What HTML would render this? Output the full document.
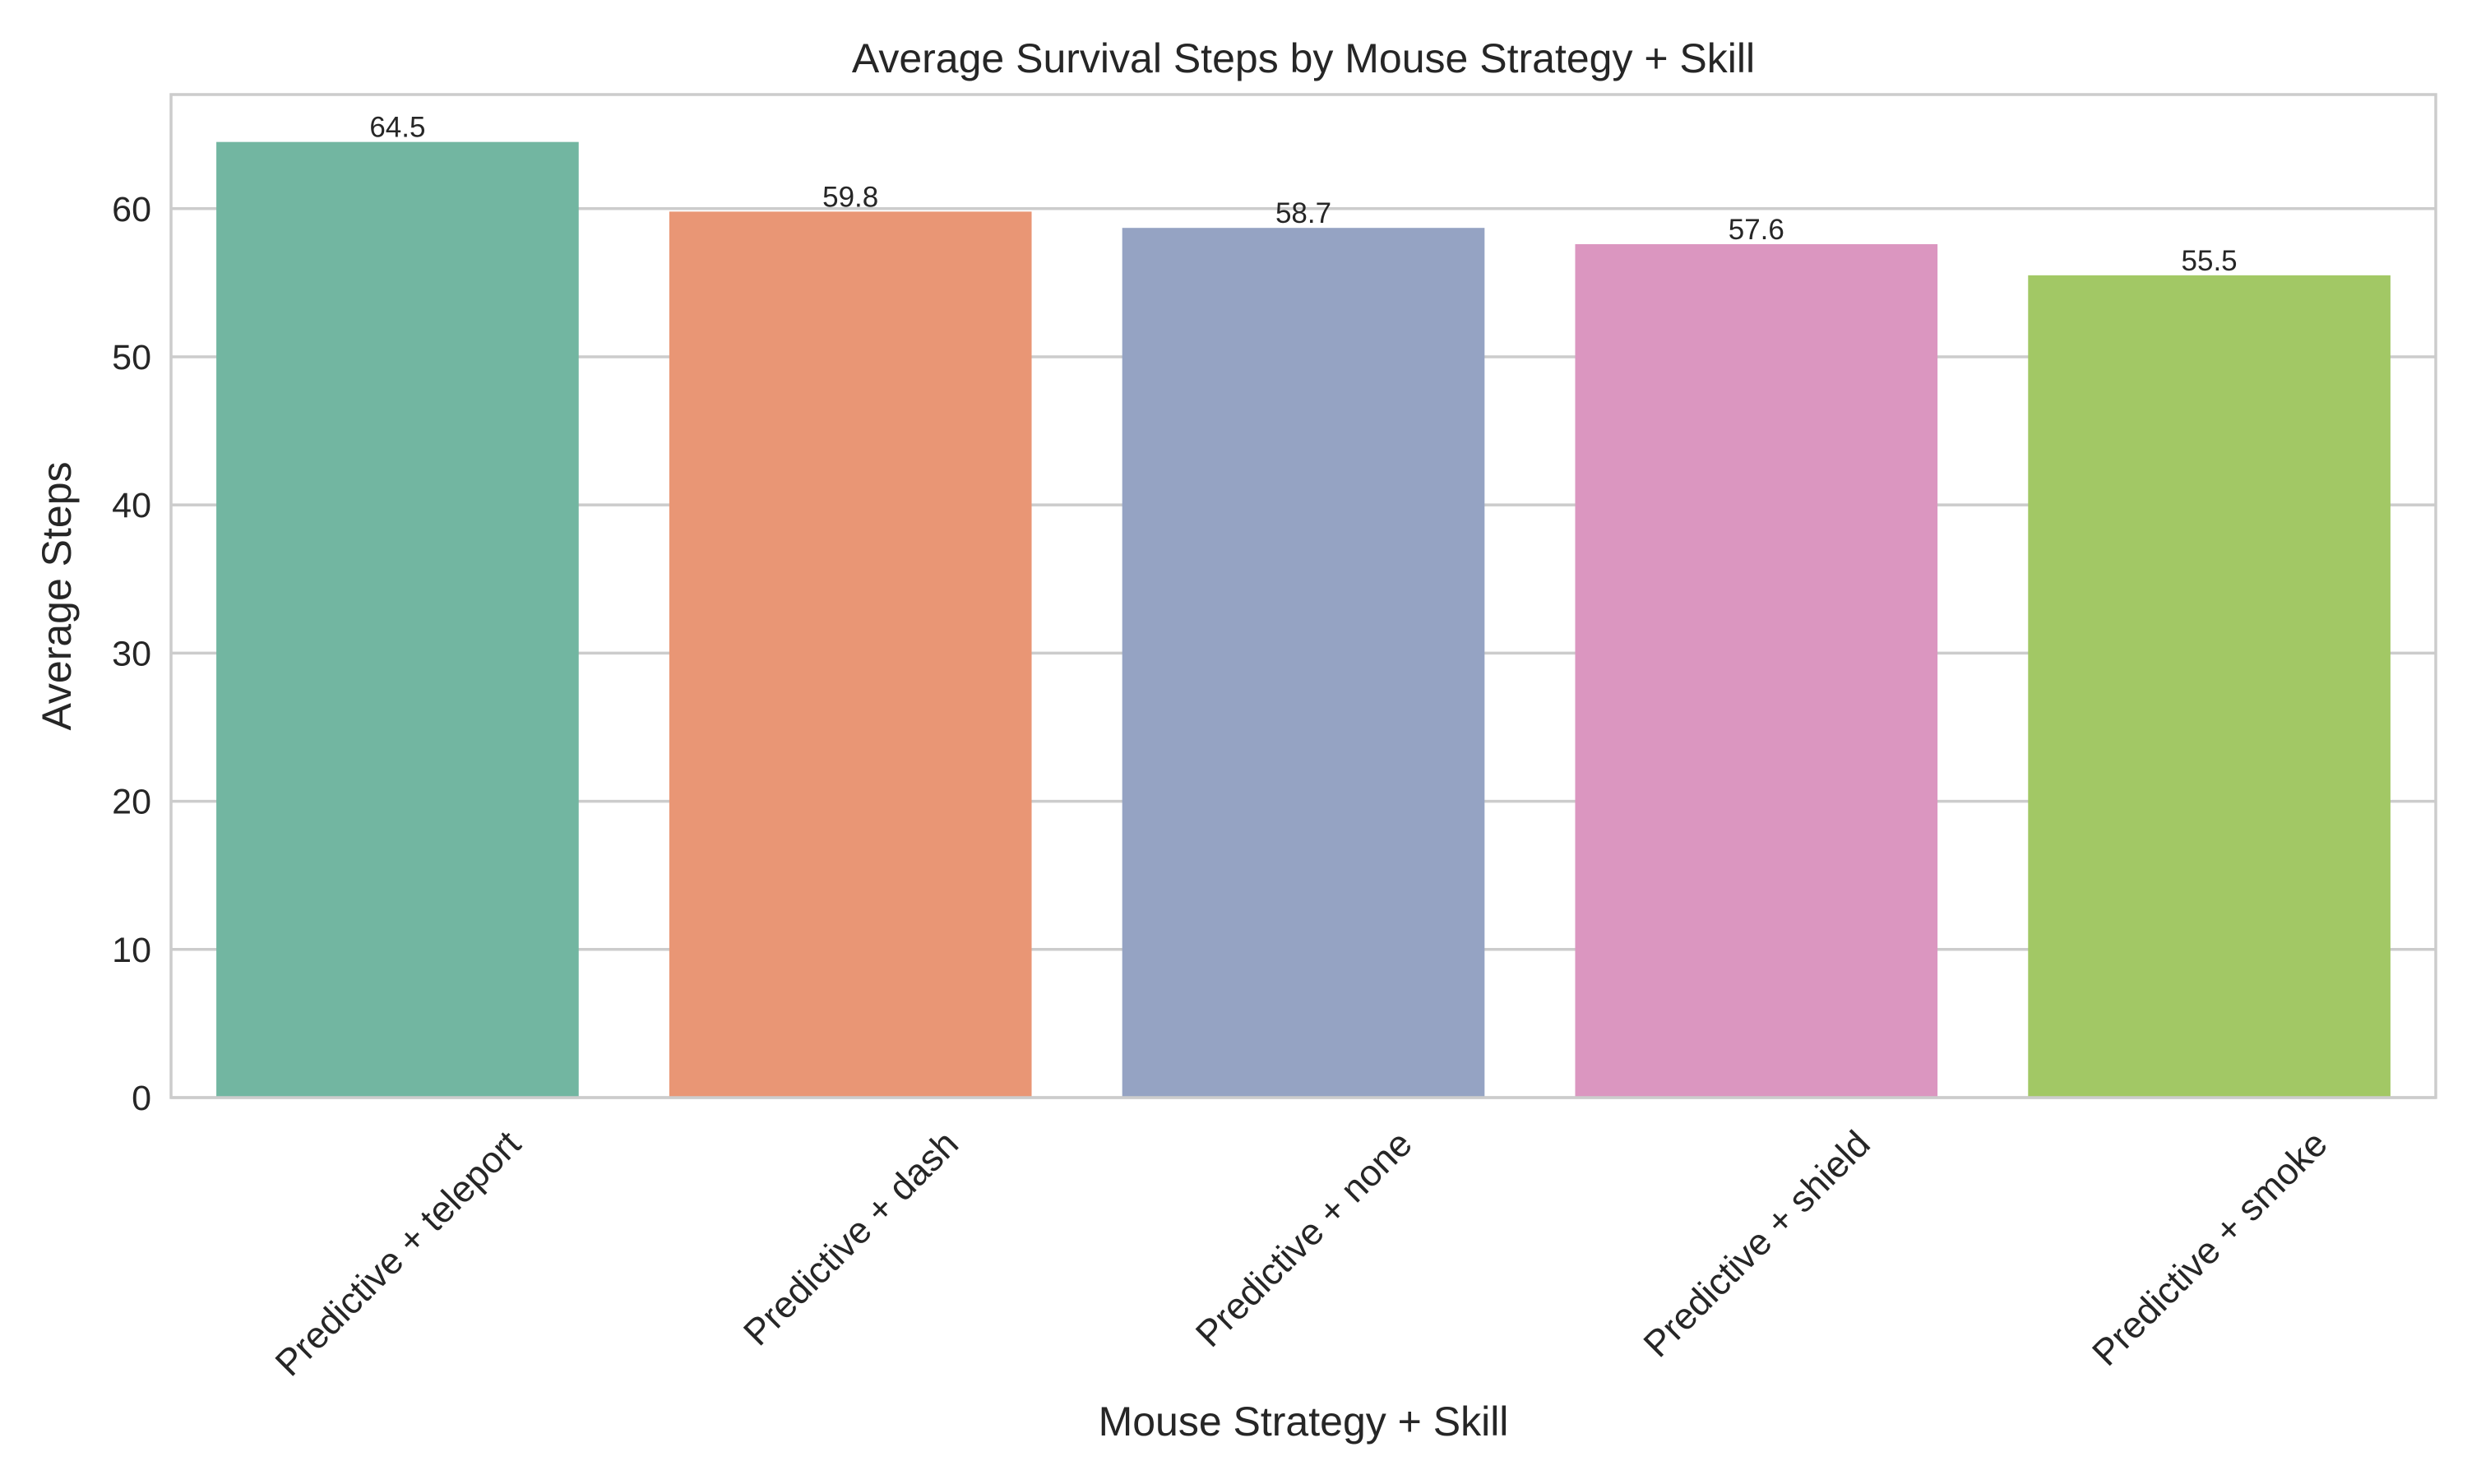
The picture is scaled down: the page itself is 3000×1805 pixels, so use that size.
<!DOCTYPE html>
<html><head><meta charset="utf-8"><style>
html,body{margin:0;padding:0;background:#fff;}
svg text{font-family:"Liberation Sans","DejaVu Sans",sans-serif;fill:#262626;}
</style></head><body>
<svg id="chart" width="3000" height="1800" viewBox="0 0 3000 1800">
<rect x="0" y="0" width="3000" height="1800" fill="#fff"/>
<g id="grid"></g><g id="bars"></g><g id="labels"></g><g id="ticks"></g>
<rect x="208" y="115" width="2754" height="1220" fill="none" stroke="#cccccc" stroke-width="3.5"/>
<text x="1585" y="88" font-size="50" text-anchor="middle">Average Survival Steps by Mouse Strategy + Skill</text>
<text x="1585" y="1746" font-size="50" text-anchor="middle">Mouse Strategy + Skill</text>
<text transform="translate(86,725) rotate(-90)" font-size="50" text-anchor="middle">Average Steps</text>
</svg>
<script>
const categories=["Predictive + teleport","Predictive + dash","Predictive + none","Predictive + shield","Predictive + smoke"];
const values=[64.5,59.8,58.7,57.6,55.5];
const valueLabels=["64.5","59.8","58.7","57.6","55.5"];
const yTicks=[0,10,20,30,40,50,60];
const colors=["#72b6a1","#e99675","#95a3c3","#db96c0","#a2c865"];
const L=208,R=2962,T=115,B=1335,YMAX=67.7;
const NS="http://www.w3.org/2000/svg";
const y=v=>B-(v/YMAX)*(B-T);
const step=(R-L)/categories.length;
const xc=i=>L+step*(i+0.5);
function mk(tag,attrs,parent){const e=document.createElementNS(NS,tag);for(const k in attrs)e.setAttribute(k,attrs[k]);document.getElementById(parent).appendChild(e);return e;}
yTicks.forEach(t=>{
 const g=mk('line',{x1:L,x2:R,y1:y(t),y2:y(t),stroke:'#cccccc','stroke-width':3.5},'grid');
 
 
 const tx=mk('text',{x:L-24,y:y(t)+15,'font-size':43,'text-anchor':'end'},'ticks');
 tx.textContent=t;
 
 
});
categories.forEach((c,i)=>{
 const w=step*0.8;
 const b=mk('rect',{x:xc(i)-w/2,y:y(values[i]),width:w,height:B-y(values[i]),fill:colors[i]},'bars');
 
 
 const v=mk('text',{x:xc(i),y:y(values[i])-6,'font-size':35,'text-anchor':'middle'},'labels');
 v.textContent=valueLabels[i];
 
 
 const t=mk('text',{'font-size':45,'text-anchor':'middle'},'ticks');
 t.textContent=c;
 
 
 const tw=t.getComputedTextLength(),th=45;
 const bh=(tw+th)/Math.SQRT2;
 const cy=B+32+bh/2;
 t.setAttribute('transform','translate('+xc(i)+','+cy+') rotate(-45) translate(0,16)');
});
</script>
</body></html>
